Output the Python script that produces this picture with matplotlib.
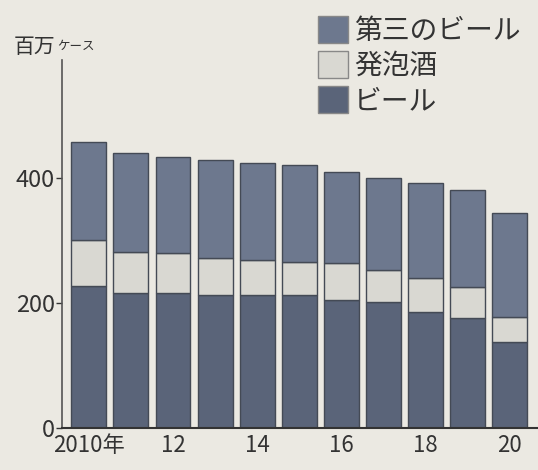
import matplotlib
matplotlib.use('Agg')
import matplotlib.pyplot as plt
from matplotlib.patches import Patch

plt.rcParams['font.family'] = ['Noto Sans CJK JP', 'DejaVu Sans']

# shipments, million cases
years = [2010, 2011, 2012, 2013, 2014, 2015, 2016, 2017, 2018, 2019, 2020]
beer = [227, 216, 216, 213, 213, 213, 205, 202, 186, 176, 138]
happoshu = [74, 66, 64, 59, 56, 53, 59, 51, 54, 50, 40]
third = [157, 158, 154, 157, 155, 155, 146, 147, 152, 155, 166]

tick_years = [2010, 2012, 2014, 2016, 2018, 2020]
tick_labels = ['2010年', '12', '14', '16', '18', '20']
series_names = ['第三のビール', '発泡酒', 'ビール']

bg = '#ebe9e2'
c_beer = '#5a6479'
c_happo = '#d9d8d2'
c_third = '#6d788e'
edge = '#444a55'

fig = plt.figure(figsize=(5.38, 4.70), dpi=100, facecolor=bg)
ax = fig.add_axes([0.115, 0.089, 0.885, 0.783], facecolor=bg)

w = 0.83
ax.bar(years, beer, width=w, color=c_beer, edgecolor=edge, linewidth=1)
bottom2 = [b for b in beer]
ax.bar(years, happoshu, width=w, bottom=bottom2, color=c_happo, edgecolor=edge, linewidth=1)
bottom3 = [b + h for b, h in zip(beer, happoshu)]
ax.bar(years, third, width=w, bottom=bottom3, color=c_third, edgecolor=edge, linewidth=1)

ax.set_xlim(2009.36, 2020.67)
ax.set_ylim(0, 589)
ax.set_yticks([0, 200, 400])
ax.set_xticks(tick_years)
ax.set_xticklabels(tick_labels)
ax.tick_params(axis='x', length=0, labelsize=16, pad=4, colors='#333333')
ax.tick_params(axis='y', length=4, width=1, labelsize=17, pad=1, colors='#333333')
for s in ['top', 'right']:
    ax.spines[s].set_visible(False)
ax.spines['left'].set_color('#555555')
ax.spines['bottom'].set_color('#333333')
ax.spines['left'].set_linewidth(1.2)
ax.spines['bottom'].set_linewidth(1.5)

fig.text(14 / 538, 1 - 47 / 470, '百万', fontsize=15, color='#333333', va='center', ha='left')
fig.text(57 / 538, 1 - 46 / 470, 'ケース', fontsize=9, color='#333333', va='center', ha='left')

handles = [Patch(facecolor=c_third, edgecolor='#888888'),
           Patch(facecolor=c_happo, edgecolor='#888888'),
           Patch(facecolor=c_beer, edgecolor='#888888')]
fig.legend(handles, series_names, loc='upper left', bbox_to_anchor=(304 / 538, 1 - 2 / 470),
           frameon=False, fontsize=20, borderpad=0, handlelength=1.1, handleheight=1.1,
           handletextpad=0.2, labelspacing=0.18, labelcolor='#333333')

fig.savefig('out.png', dpi=100, facecolor=bg)
